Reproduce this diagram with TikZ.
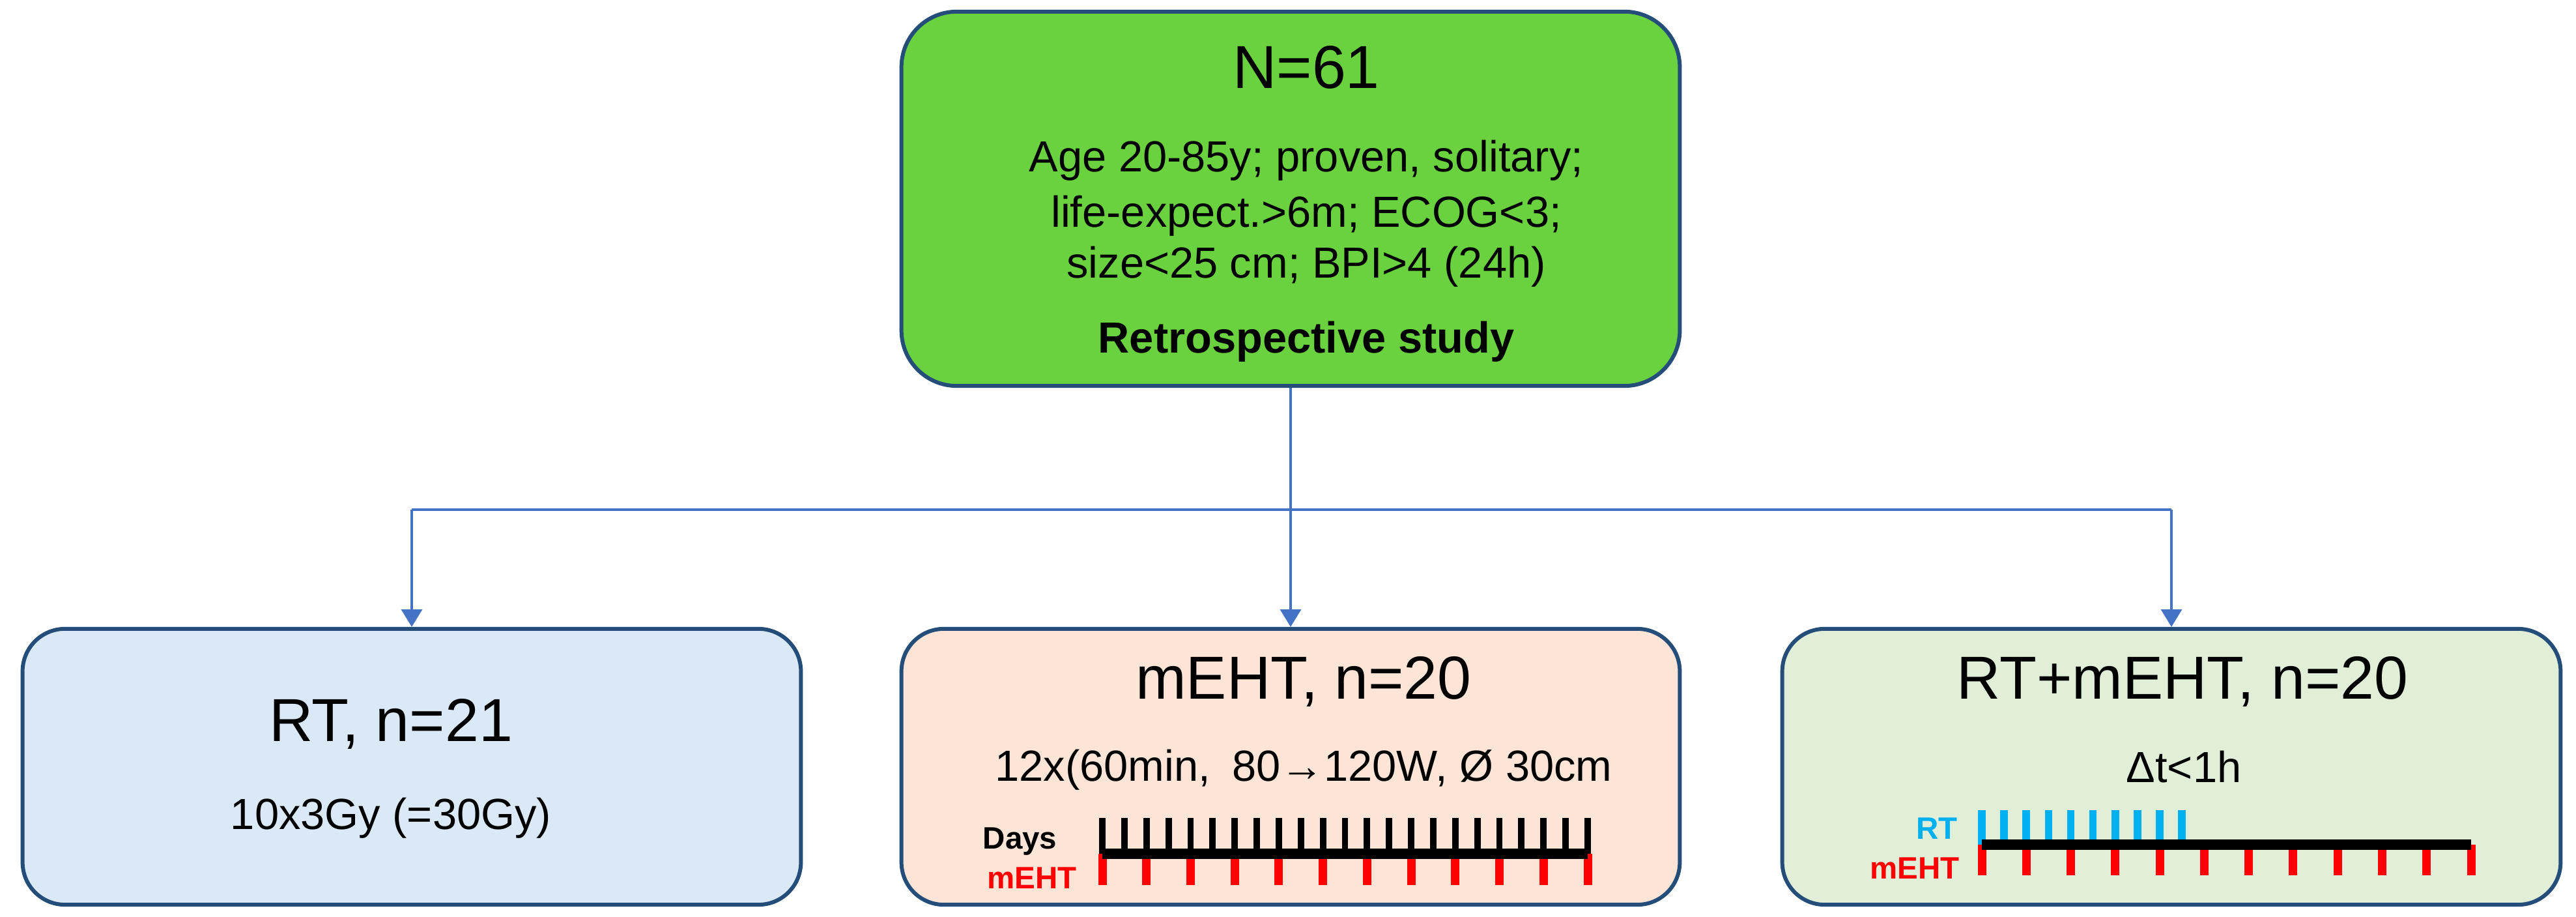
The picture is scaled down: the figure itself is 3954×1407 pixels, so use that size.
\documentclass[tikz,border=0pt]{standalone}
\usepackage{fontspec}
\setmainfont{Liberation Sans}
\usetikzlibrary{arrows.meta,calc}
\definecolor{fc_green}{RGB}{106, 210, 62}
\definecolor{fc_blue}{RGB}{219, 233, 246}
\definecolor{fc_peach}{RGB}{252, 228, 214}
\definecolor{fc_mint}{RGB}{225, 239, 217}
\definecolor{fc_edge}{RGB}{37, 77, 122}
\definecolor{fc_arrow}{RGB}{68, 114, 196}
\definecolor{fc_red}{RGB}{255, 0, 0}
\definecolor{fc_cyan}{RGB}{0, 176, 240}
\tikzstyle{grp}=[rectangle,rounded corners=0.65cm,draw=fc_edge,line width=1.7pt,
  minimum width=11.94cm,minimum height=4.23cm,inner sep=0pt]
\tikzstyle{poolbox}=[grp,fill=fc_green,rounded corners=0.85cm,minimum height=5.74cm]
\tikzstyle{conn}=[draw=fc_arrow,line width=1.1pt]
\tikzstyle{arm}=[conn,-{Triangle[width=0.32cm,length=0.27cm]}]
\tikzstyle{grptitle}=[anchor=base,inner sep=0pt,font=\fontsize{26.5pt}{32pt}\selectfont]
\tikzstyle{txt}=[anchor=base,inner sep=0pt,font=\fontsize{19pt}{23pt}\selectfont]
\tikzstyle{lbl}=[inner sep=0pt,font=\fontsize{13.5pt}{16pt}\selectfont\bfseries]
\tikzstyle{axis}=[line width=4.3pt,black]
\tikzstyle{dtick}=[line width=2.8pt,black]
\tikzstyle{rtick}=[line width=3.7pt,fc_red]
\tikzstyle{ctick}=[line width=3.3pt,fc_cyan]

\begin{document}
\begin{tikzpicture}[x=0.01cm, y=-0.01cm]
    \useasboundingbox (0,0) rectangle (3954,1407);
    % boxes
    \node[poolbox] (pool) at (1981, 305) {};
    \node[grp,fill=fc_blue] (rt) at (632, 1176.5) {};
    \node[grp,fill=fc_peach] (meht) at (1981, 1176.5) {};
    \node[grp,fill=fc_mint] (comb) at (3333, 1176.5) {};
    % connectors
    \coordinate (split) at (1981, 782);
    \draw[conn] (pool.south) -- (split);
    \draw[conn] (rt.north |- split) -- (comb.north |- split);
    \draw[arm] (split) -- (meht.north);
    \draw[arm] (rt.north |- split) -- (rt.north);
    \draw[arm] (comb.north |- split) -- (comb.north);
    % top box
    \node[grptitle] (n61) at (2005, 136) {N=61};
    \node[txt] (crit1) at (2005, 264) {Age 20-85y; proven, solitary;};
    \node[txt] (crit2) at (2005, 349) {life-expect.>6m; ECOG<3;};
    \node[txt] (crit3) at (2005, 427) {size<25 cm; BPI>4 (24h)};
    \node[txt,font=\fontsize{19pt}{23pt}\selectfont\bfseries] (retro) at (2005, 542) {Retrospective study};
    % RT arm
    \node[grptitle] (rtn) at (600, 1137) {RT, n=21};
    \node[txt] (rtdose) at (600, 1272) {10x3Gy (=30Gy)};
    % mEHT arm
    \node[grptitle] (mehtn) at (2001, 1073) {mEHT, n=20};
    \node[txt] (mehtdose) at (2001, 1198) {12x(60min,\enspace80→120W, Ø 30cm};
    \coordinate (d0) at (1692, 1310);
    \coordinate (d1) at (2437, 1310);
    \foreach \i in {0,...,22}
        \draw[dtick] ({1692+\i*33.86}, 1310) -- ({1692+\i*33.86}, 1255);
    \foreach \i in {0,...,11}
        \draw[rtick] ({1692+\i*67.73}, 1310) -- ({1692+\i*67.73}, 1358);
    \draw[axis] (d0) -- (d1);
    \node[lbl,anchor=base west] (days) at (1508, 1302) {Days};
    \node[lbl,anchor=base west,text=fc_red] (dmeht) at (1515, 1363) {mEHT};
    % RT+mEHT arm
    \node[grptitle] (combn) at (3350, 1073) {RT+mEHT, n=20};
    \node[txt] (combdt) at (3352, 1200) {Δt<1h};
    \coordinate (c0) at (3042, 1296);
    \coordinate (c1) at (3793, 1296);
    \foreach \i in {0,...,9}
        \draw[ctick] ({3042+\i*34.13}, 1296) -- ({3042+\i*34.13}, 1243);
    \foreach \i in {0,...,11}
        \draw[rtick] ({3042+\i*68.27}, 1296) -- ({3042+\i*68.27}, 1343);
    \draw[axis] (c0) -- (c1);
    \node[lbl,anchor=base east,text=fc_cyan] (crt) at (3005, 1287) {RT};
    \node[lbl,anchor=base east,text=fc_red] (cmeht) at (3008, 1348) {mEHT};
\end{tikzpicture}
\end{document}
